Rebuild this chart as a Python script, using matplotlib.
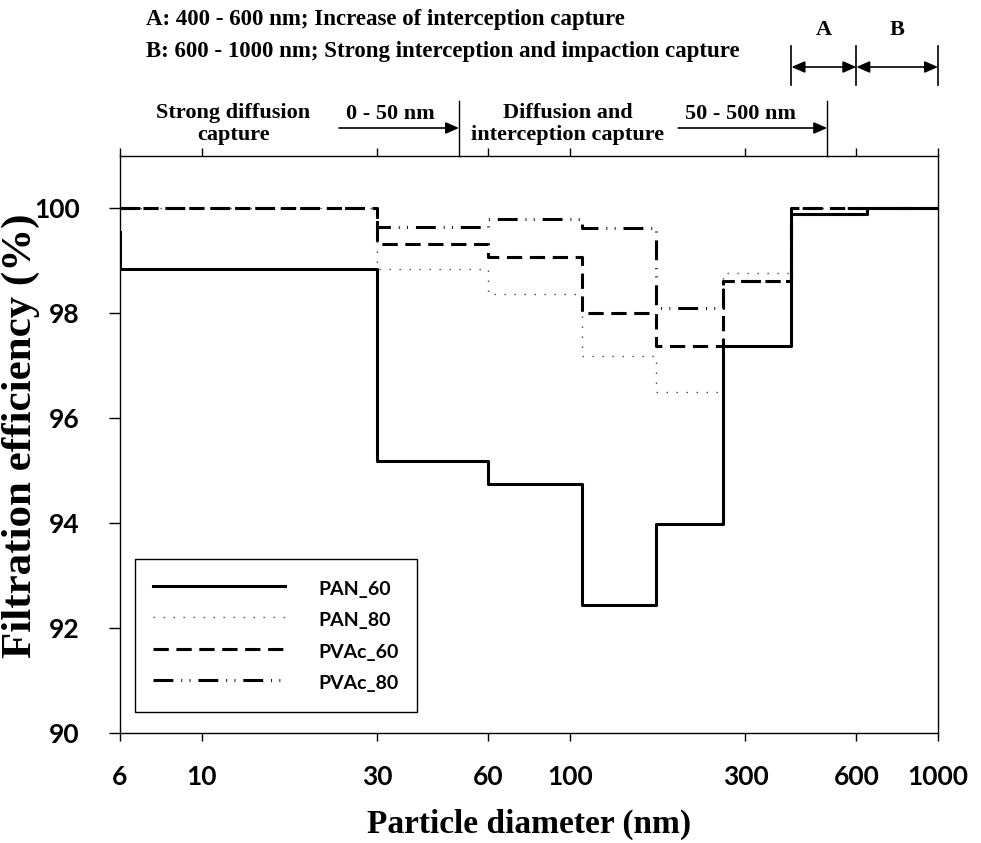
import matplotlib
matplotlib.use('Agg')
import matplotlib.pyplot as plt
import matplotlib.transforms as mtransforms
from matplotlib.ticker import NullLocator, FixedLocator, FixedFormatter

# ---------------- data ----------------
size_edges = [6, 30, 60, 108, 171, 260, 400, 641, 1000]   # nm, bin edges
pan60_at6 = 99.55
pan60 = [98.84, 95.19, 94.75, 92.44, 93.98, 97.37, 99.89, 100.0]
pan80 = [100.0, 98.85, 98.37, 97.19, 96.50, 98.77, 100.0, 100.0]
pvac60 = [100.0, 99.32, 99.08, 98.00, 97.38, 98.62, 100.0, 100.0]
pvac80 = [100.0, 99.65, 99.80, 99.62, 98.10, 98.62, 100.0, 100.0]
series_names = ['PAN_60', 'PAN_80', 'PVAc_60', 'PVAc_80']
xticks = [6, 10, 30, 60, 100, 300, 600, 1000]
xticklabels = ['6', '10', '30', '60', '100', '300', '600', '1000']
yticks = [90, 92, 94, 96, 98, 100]

SERIF = 'Liberation Serif'
SANS = 'Lato'

W, H = 981, 843
fig = plt.figure(figsize=(W / 100, H / 100), dpi=100)
ax = fig.add_axes([120 / W, 1 - 733 / H, (938 - 120) / W, (733 - 156) / H])

# ---------------- lines ----------------
ax.plot([size_edges[0]] + size_edges, [pan60_at6] + pan60 + [pan60[-1]],
        drawstyle='steps-post', color='black', lw=2.2, label=series_names[0], zorder=5)
ax.plot(size_edges, pan80 + [pan80[-1]], drawstyle='steps-post', color='#444444',
        lw=1.0, linestyle=(0, (1, 6.2)), label=series_names[1], zorder=3)
ax.plot(size_edges, pvac60 + [pvac60[-1]], drawstyle='steps-post', color='black',
        lw=2.2, linestyle=(0, (5, 2.5)), label=series_names[2], zorder=4)
ax.plot(size_edges, pvac80 + [pvac80[-1]], drawstyle='steps-post', color='black',
        lw=2.2, linestyle=(0, (6.5, 2.6, 0.3, 2.4, 0.3, 2.6)), label=series_names[3], zorder=4)

ax.set_xscale('log')
ax.set_xlim(6, 1000)
ax.set_ylim(90, 101)
ax.xaxis.set_major_locator(FixedLocator(xticks))
ax.xaxis.set_major_formatter(FixedFormatter(xticklabels))
ax.xaxis.set_minor_locator(NullLocator())
ax.set_yticks(yticks)
ax.set_yticklabels([str(v) for v in yticks])
ax.tick_params(axis='x', which='major', direction='out', length=6, width=1,
               top=True, labeltop=False, pad=17)
ax.tick_params(axis='y', which='major', direction='out', length=8, width=1, pad=21)
for lab in ax.get_xticklabels() + ax.get_yticklabels():
    lab.set_fontfamily(SANS)
    lab.set_fontweight('bold')
    lab.set_fontsize(19)
for sp in ax.spines.values():
    sp.set_linewidth(1.0)

ax.set_xlabel('Particle diameter (nm)', fontfamily=SERIF, fontweight='bold',
              fontsize=24, va='center')
ax.xaxis.set_label_coords(0.5, (733 - 824) / 577)
ax.set_ylabel('Filtration efficiency (%)', fontfamily=SERIF, fontweight='bold',
              fontsize=31, va='center')
ax.yaxis.set_label_coords((21 - 120) / 818, (733 - 436) / 577)

# ---------------- legend ----------------
leg = ax.legend(loc='upper left', bbox_to_anchor=(135 / W, 1 - 559 / H),
                bbox_transform=fig.transFigure, borderaxespad=0, frameon=True,
                fancybox=False, edgecolor='black', framealpha=1,
                prop={'family': SANS, 'weight': 'bold', 'size': 14},
                handlelength=6.8, handletextpad=1.75, labelspacing=0.4,
                handleheight=1.5, borderpad=0.9)
leg.get_frame().set_linewidth(1.0)

# ---------------- annotations above the axes ----------------
tr = mtransforms.blended_transform_factory(ax.transData, ax.transAxes)
def frac(ypx):
    return (733 - ypx) / 577.0

tkw = dict(fontfamily=SERIF, fontweight='bold', transform=tr, ha='center', va='center')
for xv in (50, 500):
    ax.plot([xv, xv], [1.0, frac(101)], color='black', lw=1.0, transform=tr, clip_on=False)
ax.text(12.2, frac(124), 'Strong diffusion\ncapture', fontsize=16, linespacing=1.1, **tkw)
ax.text(98.8, frac(124), 'Diffusion and\ninterception capture', fontsize=16, linespacing=1.1, **tkw)
ax.text(32.5, frac(114), '0 - 50 nm', fontsize=16, **tkw)
ax.text(290, frac(114), '50 - 500 nm', fontsize=16, **tkw)
akw = dict(arrowstyle='-|>,head_length=0.8,head_width=0.35', color='black', lw=1.2,
           shrinkA=0, shrinkB=0)
ax.annotate('', xy=(50, frac(128)), xytext=(23.6, frac(128)), xycoords=tr,
            textcoords=tr, arrowprops=akw, annotation_clip=False)
ax.annotate('', xy=(500, frac(128)), xytext=(197, frac(128)), xycoords=tr,
            textcoords=tr, arrowprops=akw, annotation_clip=False)

# A / B brackets
for xv in (400, 600, 1000):
    ax.plot([xv, xv], [frac(85), frac(46)], color='black', lw=1.2, transform=tr, clip_on=False)
dkw = dict(arrowstyle='<|-|>,head_length=0.8,head_width=0.35', color='black', lw=1.2,
           shrinkA=0, shrinkB=0)
ax.annotate('', xy=(600, frac(67)), xytext=(400, frac(67)), xycoords=tr,
            textcoords=tr, arrowprops=dkw, annotation_clip=False)
ax.annotate('', xy=(1000, frac(67)), xytext=(600, frac(67)), xycoords=tr,
            textcoords=tr, arrowprops=dkw, annotation_clip=False)
ax.text(490, frac(30), 'A', fontsize=16, **tkw)
ax.text(775, frac(30), 'B', fontsize=16, **tkw)

fig.text(146 / W, 1 - 20 / H, 'A: 400 - 600 nm; Increase of interception capture',
         fontfamily=SERIF, fontweight='bold', fontsize=16.5, ha='left', va='center')
fig.text(146 / W, 1 - 51 / H, 'B: 600 - 1000 nm; Strong interception and impaction capture',
         fontfamily=SERIF, fontweight='bold', fontsize=16.5, ha='left', va='center')

fig.savefig('out.png', dpi=100, facecolor='white')
